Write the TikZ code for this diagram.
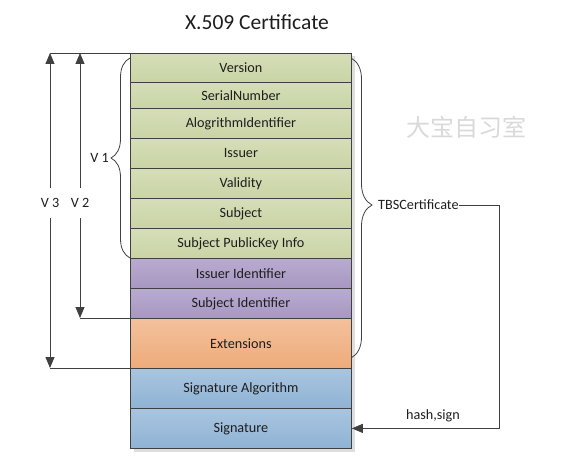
\documentclass[tikz,border=0pt]{standalone}
\usepackage{fontspec}
\setmainfont{Carlito}
\newfontfamily\cjk{Noto Sans CJK SC}
\usetikzlibrary{arrows.meta,decorations.pathreplacing}
\definecolor{linec}{HTML}{404040}
\definecolor{txtc}{HTML}{1E1E1E}
\definecolor{gtop}{HTML}{D5DEB8}
\definecolor{gbot}{HTML}{C9D4A5}
\definecolor{ptop}{HTML}{B8ABCF}
\definecolor{pbot}{HTML}{A797C2}
\definecolor{otop}{HTML}{F3C19C}
\definecolor{obot}{HTML}{EEAB7A}
\definecolor{btop}{HTML}{A9C5DF}
\definecolor{bbot}{HTML}{8FB3D5}
\begin{document}
\begin{tikzpicture}[x=1pt,y=-1pt,
  rowbox/.style={draw=linec, line width=0.8pt, minimum width=221pt, inner sep=0pt,
    anchor=north west, font=\fontsize{14.2}{16}\selectfont, text=txtc},
  gband/.style={rowbox, top color=gtop, bottom color=gbot},
  pband/.style={rowbox, top color=ptop, bottom color=pbot},
  oband/.style={rowbox, top color=otop, bottom color=obot},
  bband/.style={rowbox, top color=btop, bottom color=bbot},
  conn/.style={draw=linec, line width=0.8pt},
  tri/.style={-{Triangle[width=9pt,length=11pt]}},
  bracestyle/.style={draw=linec, line width=0.8pt, decorate},
  lbl/.style={font=\fontsize{14.2}{16}\selectfont, text=txtc, inner sep=0pt}
]
\useasboundingbox (0,0) rectangle (562,473);

% title and watermark
\node[font=\fontsize{21.5}{24}\selectfont, text=txtc] (title) at (257,22) {X.509 Certificate};
\node[font=\cjk\fontsize{24}{28}\selectfont, text=black!15] (wm) at (466,127) {大宝自习室};

% shadow
\fill[black!13] (133.5,56) rectangle (355,452);

% rows
\node[gband, minimum height=29pt] (ver) at (130,53) {Version};
\node[gband, minimum height=26pt] (ser) at (130,82) {SerialNumber};
\node[gband, minimum height=30pt] (alg) at (130,108) {AlogrithmIdentifier};
\node[gband, minimum height=30pt] (iss) at (130,138) {Issuer};
\node[gband, minimum height=30pt] (val) at (130,168) {Validity};
\node[gband, minimum height=30pt] (sub) at (130,198) {Subject};
\node[gband, minimum height=30pt] (spk) at (130,228) {Subject PublicKey Info};
\node[pband, minimum height=30pt] (iid) at (130,258) {Issuer Identifier};
\node[pband, minimum height=30pt] (sid) at (130,288) {Subject Identifier};
\node[oband, minimum height=50pt] (ext) at (130,318) {Extensions};
\node[bband, minimum height=40pt] (sal) at (130,368) {Signature Algorithm};
\node[bband, minimum height=40pt] (sig) at (130,408) {Signature};

% version arrows
\coordinate (v3top) at (50,53);
\coordinate (v3bot) at (50,368);
\coordinate (v2top) at (80,53);
\coordinate (v2bot) at (80,318);
\node[lbl, minimum height=30pt] (v3) at (50,203) {V 3};
\node[lbl, minimum height=30pt] (v2) at (80,203) {V 2};
\draw[conn] (v3top) -- (ver.north west);
\draw[conn, tri] (v3) -- (v3top);
\draw[conn, tri] (v3) -- (v3bot);
\draw[conn] (v3bot) -- (sal.north west);
\draw[conn, tri] (v2) -- (v2top);
\draw[conn, tri] (v2) -- (v2bot);
\draw[conn] (v2bot) -- (ext.north west);

% braces
\draw[bracestyle, decoration={brace, amplitude=19pt}] (130,258) -- (130,58);
\node[lbl, anchor=east] (v1) at (109,158) {V 1};
\draw[bracestyle, decoration={brace, amplitude=21pt, aspect=0.49}] (351,58) -- (351,358);
\node[lbl, anchor=west] (tbs) at (378,205) {TBSCertificate};

% hash,sign connector
\coordinate (turn) at (499,205);
\draw[conn, tri] (tbs.east) -- (turn) |- (sig.east);
\node[lbl] (hs) at (433,416) {hash,sign};
\end{tikzpicture}
\end{document}
